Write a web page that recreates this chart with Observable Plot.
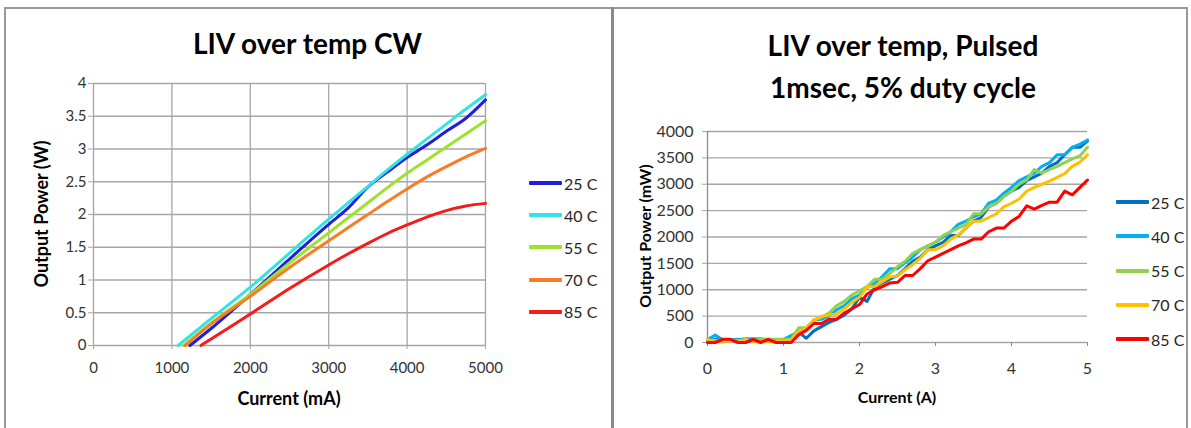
<!DOCTYPE html>
<html>
<head>
<meta charset="utf-8">
<script src="https://cdn.jsdelivr.net/npm/d3@7"></script>
<script src="https://cdn.jsdelivr.net/npm/@observablehq/plot@0.6"></script>
<style>
  html, body { margin: 0; padding: 0; background: #fff; }
  body { width: 1191px; height: 428px; overflow: hidden; position: relative; font-family: Lato, "Open Sans", sans-serif; }
  .abs { position: absolute; }
  .title { font-weight: bold; font-size: 28px; color: #000; text-align: center; }
  .axt { font-weight: bold; color: #000; text-align: center; white-space: nowrap; }
  .leg { position: absolute; display: flex; align-items: center; font-size: 16px; color: #262626; }
  .leg span.sw { display: inline-block; width: 33px; height: 4px; border-radius: 1px; margin-right: 2px; }
</style>
</head>
<body>
<div class="abs" style="left:4px;top:7px;width:607px;height:440px;border-left:2px solid #9a9a9a;border-top:2px solid #9a9a9a;"></div>
<div class="abs" style="left:611px;top:7px;width:3px;height:421px;background:#8a8a8a;"></div>
<div class="abs" style="left:614px;top:7px;width:572px;height:440px;border-top:2px solid #9a9a9a;border-right:2px solid #9a9a9a;"></div>

<div id="cw" class="abs" style="left:0;top:0;"></div>
<div id="pulsed" class="abs" style="left:615px;top:0;"></div>

<div class="abs title" style="left:4px;top:26px;width:607px;line-height:34px;">LIV over temp CW</div>
<div class="abs title" style="left:614px;top:24px;width:578px;line-height:42px;">LIV over temp, Pulsed<br>1msec, 5% duty cycle</div>

<div class="abs axt" style="left:93px;top:387px;width:392px;line-height:22px;font-size:18px;">Current (mA)</div>
<div class="abs axt" style="left:-59px;top:203px;width:200px;line-height:22px;font-size:18px;transform:rotate(-90deg);">Output Power (W)</div>
<div class="abs axt" style="left:707px;top:386px;width:380px;line-height:22px;font-size:16px;">Current (A)</div>
<div class="abs axt" style="left:545px;top:225px;width:200px;line-height:22px;font-size:16px;transform:rotate(-90deg);">Output Power (mW)</div>

<div id="legCw"></div>
<div id="legPulsed"></div>

<script>
// ---------- shared ----------
const temps = ["25 C", "40 C", "55 C", "70 C", "85 C"];

// ---------- CW chart (left): current in mA, power in W ----------
const cwThreshold = [1230, 1080, 1150, 1170, 1370];
const cwCurrent = [1500, 2000, 2500, 3000, 3250, 3500, 3750, 4000, 4250, 4500, 4750, 5000];
const cw25 = [0.26, 0.78, 1.32, 1.85, 2.10, 2.42, 2.65, 2.87, 3.06, 3.27, 3.47, 3.75];
const cw40 = [0.41, 0.89, 1.41, 1.93, 2.18, 2.43, 2.68, 2.92, 3.15, 3.38, 3.61, 3.83];
const cw55 = [0.34, 0.78, 1.26, 1.72, 1.95, 2.18, 2.41, 2.63, 2.83, 3.03, 3.23, 3.43];
const cw70 = [0.33, 0.75, 1.19, 1.60, 1.80, 2.00, 2.20, 2.39, 2.57, 2.73, 2.88, 3.01];
const cw85 = [0.10, 0.48, 0.87, 1.23, 1.40, 1.56, 1.71, 1.84, 1.96, 2.06, 2.13, 2.17];
const cwXTicks = [0, 1000, 2000, 3000, 4000, 5000];
const cwYTicks = [0, 0.5, 1, 1.5, 2, 2.5, 3, 3.5, 4];
const cwColors = ["#2020dc", "#33e3e3", "#9de22c", "#fa7b25", "#f71a1a"];

// ---------- Pulsed chart (right): current in A (0.1 A steps), power in mW ----------
const pulsedCurrent = d3.range(0, 51).map(i => i / 10);
const p25 = [20,60,40,40,60,20,40,40,60,20,40, 80,200,80,220,300,380,440,520,640,860, 780,1050,1130,1200,1270,1400,1540,1620,1760,1830, 1900,2030,2030,2170,2300,2370,2570,2640,2770,2870, 2940,3070,3140,3210,3340,3410,3560,3700,3700,3820];
const p40 = [50,140,50,50,50,70,70,70,50,50,60, 130,200,280,420,440,500,620,700,830,900, 1050,1120,1250,1400,1400,1510,1620,1760,1830,1900, 2000,2100,2240,2300,2380,2440,2640,2700,2830,2940, 3070,3140,3210,3340,3410,3560,3560,3700,3760,3840];
const p55 = [40,40,40,40,40,40,40,60,60,60,60, 60,280,280,420,480,560,700,780,900,980, 1060,1200,1200,1310,1440,1540,1690,1760,1830,1900, 2030,2100,2170,2240,2440,2440,2570,2640,2770,2870, 3000,3080,3280,3210,3280,3340,3410,3480,3540,3700];
const p70 = [60,20,20,40,20,60,20,20,20,20,20, 50,200,280,430,490,520,540,640,760,860, 1050,1060,1150,1240,1260,1380,1480,1600,1760,1760, 1830,1960,2040,2170,2300,2300,2370,2440,2570,2640, 2720,2870,2940,3000,3060,3130,3200,3340,3420,3560];
const p85 = [0,0,60,60,0,0,60,0,60,0,0, 0,150,230,360,360,440,440,560,640,720, 920,1000,1060,1130,1140,1270,1270,1400,1550,1620, 1690,1760,1830,1890,1960,1960,2100,2170,2170,2300, 2390,2590,2530,2600,2660,2660,2870,2800,2940,3080];
const pXTicks = [0, 1, 2, 3, 4, 5];
const pYTicks = [0, 500, 1000, 1500, 2000, 2500, 3000, 3500, 4000];
const pulsedColors = ["#0070c0", "#00b0f0", "#92d050", "#ffc000", "#ff0000"];

// ---------- build tables ----------
const cwSeries = [cw25, cw40, cw55, cw70, cw85];
const cwRows = [];
temps.forEach((t, i) => {
  cwRows.push({temp: t, current: cwThreshold[i], power: 0});
  cwCurrent.forEach((c, j) => cwRows.push({temp: t, current: c, power: cwSeries[i][j]}));
});
const pSeries = [p25, p40, p55, p70, p85];
const pRows = [];
temps.forEach((t, i) => pulsedCurrent.forEach((c, j) => pRows.push({temp: t, current: c, power: pSeries[i][j]})));

const gridColor = "#a6a6a6";
const textColor = "#333333";

// ---------- left chart ----------
const cwPlot = Plot.plot({
  width: 610, height: 428,
  marginLeft: 93, marginRight: 125, marginTop: 83, marginBottom: 83,
  style: {fontFamily: "Lato, sans-serif", fontSize: "15px", background: "transparent", color: textColor, overflow: "visible"},
  x: {domain: [0, 5000], label: null},
  y: {domain: [0, 4], label: null},
  color: {domain: temps, range: cwColors},
  marks: [
    Plot.gridX(cwXTicks, {stroke: gridColor, strokeOpacity: 1, strokeWidth: 1.3}),
    Plot.gridY(cwYTicks, {stroke: gridColor, strokeOpacity: 1, strokeWidth: 1.3}),
    Plot.axisX(cwXTicks, {tickSize: 4, tickPadding: 13, stroke: gridColor, fill: textColor, tickFormat: d => String(d), fontSize: 15, label: null}),
    Plot.axisY(cwYTicks, {tickSize: 5, tickPadding: 2, stroke: gridColor, fill: textColor, tickFormat: d => String(d), fontSize: 15, label: null}),
    Plot.line(cwRows, {x: "current", y: "power", z: "temp", stroke: "temp", strokeWidth: 3, curve: "monotone-x", strokeLinejoin: "round"})
  ]
});
document.getElementById("cw").append(cwPlot);

// ---------- right chart ----------
const pPlot = Plot.plot({
  width: 576, height: 428,
  marginLeft: 92, marginRight: 104, marginTop: 131, marginBottom: 86,
  style: {fontFamily: "Lato, sans-serif", fontSize: "16px", background: "transparent", color: textColor, overflow: "visible"},
  x: {domain: [0, 5], label: null},
  y: {domain: [0, 4000], label: null},
  color: {domain: temps, range: pulsedColors},
  marks: [
    Plot.gridY(pYTicks, {stroke: gridColor, strokeOpacity: 1, strokeWidth: 1.3}),
    Plot.ruleX([0], {stroke: "#8c8c8c", strokeWidth: 1.3}),
    Plot.axisX(pXTicks, {tickSize: 4, tickPadding: 16, stroke: "#8c8c8c", fill: textColor, tickFormat: d => String(d), fontSize: 16, label: null}),
    Plot.axisY(pYTicks, {tickSize: 5, tickPadding: 9, stroke: gridColor, fill: textColor, tickFormat: d => String(d), fontSize: 16, label: null}),
    Plot.line(pRows, {x: "current", y: "power", z: "temp", stroke: "temp", strokeWidth: 3, strokeLinejoin: "round"})
  ]
});
document.getElementById("pulsed").append(pPlot);

// ---------- legends ----------
function legend(containerId, colors, left, top0, step) {
  const box = document.getElementById(containerId);
  temps.forEach((t, i) => {
    const row = document.createElement("div");
    row.className = "leg";
    row.style.left = left + "px";
    row.style.top = (top0 + i * step - 10) + "px";
    row.style.height = "20px";
    const sw = document.createElement("span");
    sw.className = "sw";
    sw.style.background = colors[i];
    row.append(sw, document.createTextNode(t));
    box.append(row);
  });
}
legend("legCw", cwColors, 529, 183, 32.2);
legend("legPulsed", pulsedColors, 1116, 202, 34.3);
</script>
</body>
</html>
